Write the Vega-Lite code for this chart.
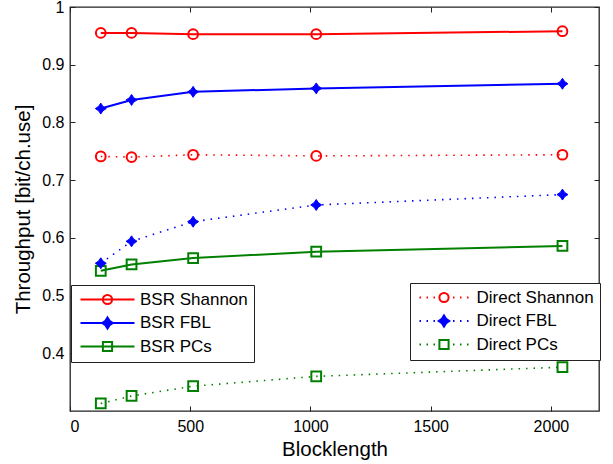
{
  "$schema": "https://vega.github.io/schema/vega-lite/v6.json",
  "width": 529,
  "height": 404,
  "autosize": {"type": "none"},
  "padding": {"left": 70, "top": 7, "right": 14, "bottom": 53},
  "data": {
    "values": [
      {"s": "BSR Shannon", "m": "BSR", "n": 128, "t": 0.955},
      {"s": "BSR Shannon", "m": "BSR", "n": 256, "t": 0.955},
      {"s": "BSR Shannon", "m": "BSR", "n": 512, "t": 0.953},
      {"s": "BSR Shannon", "m": "BSR", "n": 1024, "t": 0.953},
      {"s": "BSR Shannon", "m": "BSR", "n": 2048, "t": 0.958},
      {"s": "BSR FBL", "m": "BSR", "n": 128, "t": 0.824},
      {"s": "BSR FBL", "m": "BSR", "n": 256, "t": 0.839},
      {"s": "BSR FBL", "m": "BSR", "n": 512, "t": 0.853},
      {"s": "BSR FBL", "m": "BSR", "n": 1024, "t": 0.859},
      {"s": "BSR FBL", "m": "BSR", "n": 2048, "t": 0.867},
      {"s": "BSR PCs", "m": "BSR", "n": 128, "t": 0.543},
      {"s": "BSR PCs", "m": "BSR", "n": 256, "t": 0.554},
      {"s": "BSR PCs", "m": "BSR", "n": 512, "t": 0.565},
      {"s": "BSR PCs", "m": "BSR", "n": 1024, "t": 0.576},
      {"s": "BSR PCs", "m": "BSR", "n": 2048, "t": 0.586},
      {"s": "Direct Shannon", "m": "Direct", "n": 128, "t": 0.741},
      {"s": "Direct Shannon", "m": "Direct", "n": 256, "t": 0.740},
      {"s": "Direct Shannon", "m": "Direct", "n": 512, "t": 0.744},
      {"s": "Direct Shannon", "m": "Direct", "n": 1024, "t": 0.742},
      {"s": "Direct Shannon", "m": "Direct", "n": 2048, "t": 0.744},
      {"s": "Direct FBL", "m": "Direct", "n": 128, "t": 0.556},
      {"s": "Direct FBL", "m": "Direct", "n": 256, "t": 0.594},
      {"s": "Direct FBL", "m": "Direct", "n": 512, "t": 0.628},
      {"s": "Direct FBL", "m": "Direct", "n": 1024, "t": 0.657},
      {"s": "Direct FBL", "m": "Direct", "n": 2048, "t": 0.675},
      {"s": "Direct PCs", "m": "Direct", "n": 128, "t": 0.313},
      {"s": "Direct PCs", "m": "Direct", "n": 256, "t": 0.326},
      {"s": "Direct PCs", "m": "Direct", "n": 512, "t": 0.343},
      {"s": "Direct PCs", "m": "Direct", "n": 1024, "t": 0.360},
      {"s": "Direct PCs", "m": "Direct", "n": 2048, "t": 0.376}
    ]
  },
  "layer": [
    {
      "transform": [{"filter": "datum.m == 'BSR'"}],
      "mark": {"type": "line", "strokeWidth": 2},
      "encoding": {
        "x": {"field": "n", "type": "quantitative", "scale": {"domain": [0, 2200], "nice": false, "zero": false},
          "axis": {"orient": "bottom", "values": [0, 500, 1000, 1500, 2000], "format": "d", "title": "Blocklength", "tickSize": -5, "labelPadding": 12, "titlePadding": 5}},
        "y": {"field": "t", "type": "quantitative", "scale": {"domain": [0.3, 1], "nice": false, "zero": false},
          "axis": {"orient": "left", "values": [0.4, 0.5, 0.6, 0.7, 0.8, 0.9, 1], "labelExpr": "datum.value == 1 ? '1' : format(datum.value, '.1f')", "title": "Throughput [bit/ch.use]", "tickSize": -5, "labelPadding": 11, "titlePadding": 8}},
        "color": {"field": "s", "type": "nominal", "scale": {"domain": ["BSR Shannon", "BSR FBL", "BSR PCs"], "range": ["#ff0000", "#0000ff", "#008000"]}, "legend": null}
      }
    },
    {
      "transform": [{"filter": "datum.m == 'Direct'"}],
      "mark": {"type": "line", "strokeWidth": 1.6, "strokeDash": [1.5, 6]},
      "encoding": {
        "x": {"field": "n", "type": "quantitative", "axis": null},
        "y": {"field": "t", "type": "quantitative", "axis": null},
        "color": {"field": "s", "type": "nominal", "scale": {"domain": ["Direct Shannon", "Direct FBL", "Direct PCs"], "range": ["#ff0000", "#0000ff", "#008000"]}, "legend": null}
      }
    },
    {
      "transform": [{"filter": "datum.s != 'BSR FBL' && datum.s != 'Direct FBL'"}],
      "mark": {"type": "point", "filled": false, "strokeWidth": 2, "size": 95, "opacity": 1},
      "encoding": {
        "x": {"field": "n", "type": "quantitative", "axis": null},
        "y": {"field": "t", "type": "quantitative", "axis": null},
        "shape": {"field": "s", "type": "nominal", "scale": {"domain": ["BSR Shannon", "BSR PCs", "Direct Shannon", "Direct PCs"], "range": ["circle", "square", "circle", "square"]}, "legend": null},
        "color": {"field": "s", "type": "nominal", "scale": {"domain": ["BSR Shannon", "BSR PCs", "Direct Shannon", "Direct PCs"], "range": ["#ff0000", "#008000", "#ff0000", "#008000"]}, "legend": null}
      }
    },
    {
      "transform": [{"filter": "datum.s == 'BSR FBL' || datum.s == 'Direct FBL'"}],
      "mark": {"type": "point", "filled": true, "strokeWidth": 1, "size": 120, "opacity": 1, "color": "#0000ff", "stroke": "#0000ff", "shape": "M0,-1L0.4,-0.4L1,0L0.4,0.4L0,1L-0.4,0.4L-1,0L-0.4,-0.4Z"},
      "encoding": {
        "x": {"field": "n", "type": "quantitative", "axis": null},
        "y": {"field": "t", "type": "quantitative", "axis": null}
      }
    },
    {
      "transform": [{"filter": "datum.n < 0"}],
      "mark": {"type": "point", "strokeWidth": 2, "opacity": 1},
      "encoding": {
        "x": {"field": "n", "type": "quantitative",
          "axis": {"orient": "top", "values": [0, 500, 1000, 1500, 2000], "labels": false, "tickSize": -5, "domain": false, "title": null}},
        "y": {"field": "t", "type": "quantitative",
          "axis": {"orient": "right", "values": [0.4, 0.5, 0.6, 0.7, 0.8, 0.9, 1], "labels": false, "tickSize": -5, "domain": false, "title": null}},
        "shape": {"field": "s", "type": "nominal",
          "scale": {"domain": ["BSR Shannon", "BSR FBL", "BSR PCs"], "range": [
            "M-5.4,0L5.4,0M0.92,0A0.92,0.92,0,1,1,-0.92,0A0.92,0.92,0,1,1,0.92,0",
            "M-5.4,0L5.4,0M0,-1.1L0.42,-0.42L1.05,0L0.42,0.42L0,1.1L-0.42,0.42L-1.05,0L-0.42,-0.42Z",
            "M-5.4,0L5.4,0M-0.92,-0.92L0.92,-0.92L0.92,0.92L-0.92,0.92Z"]},
          "legend": {"orient": "none", "legendX": 1, "legendY": 278, "title": null, "labelOffset": 24, "symbolOffset": 22, "symbolSize": 100, "symbolStrokeWidth": 2}},
        "stroke": {"field": "s", "type": "nominal",
          "scale": {"domain": ["BSR Shannon", "BSR FBL", "BSR PCs"], "range": ["#ff0000", "#0000ff", "#008000"]},
          "legend": {"orient": "none", "legendX": 1, "legendY": 278, "title": null, "labelOffset": 24, "symbolOffset": 22, "symbolSize": 100, "symbolStrokeWidth": 2}},
        "fill": {"field": "s", "type": "nominal",
          "scale": {"domain": ["BSR Shannon", "BSR FBL", "BSR PCs"], "range": ["transparent", "#0000ff", "transparent"]},
          "legend": {"orient": "none", "legendX": 1, "legendY": 278, "title": null, "labelOffset": 24, "symbolOffset": 22, "symbolSize": 100, "symbolStrokeWidth": 2}}
      }
    },
    {
      "transform": [{"filter": "datum.n < 0"}],
      "mark": {"type": "point", "strokeWidth": 2, "opacity": 1},
      "encoding": {
        "x": {"field": "n", "type": "quantitative", "axis": null},
        "y": {"field": "t", "type": "quantitative", "axis": null},
        "shape": {"field": "s", "type": "nominal",
          "scale": {"domain": ["Direct Shannon", "Direct FBL", "Direct PCs"], "range": [
            "M-4.9,0L-4.6,0M-3.5,0L-3.2,0M-2.1,0L-1.8,0M1.8,0L2.1,0M3.2,0L3.5,0M4.6,0L4.9,0M0.92,0A0.92,0.92,0,1,1,-0.92,0A0.92,0.92,0,1,1,0.92,0",
            "M-4.9,0L-4.6,0M-3.5,0L-3.2,0M-2.1,0L-1.8,0M1.8,0L2.1,0M3.2,0L3.5,0M4.6,0L4.9,0M0,-1.1L0.42,-0.42L1.05,0L0.42,0.42L0,1.1L-0.42,0.42L-1.05,0L-0.42,-0.42Z",
            "M-4.9,0L-4.6,0M-3.5,0L-3.2,0M-2.1,0L-1.8,0M1.8,0L2.1,0M3.2,0L3.5,0M4.6,0L4.9,0M-0.92,-0.92L0.92,-0.92L0.92,0.92L-0.92,0.92Z"]},
          "legend": {"orient": "none", "legendX": 340, "legendY": 276, "title": null, "labelOffset": 24, "symbolOffset": 19.5, "symbolSize": 100, "symbolStrokeWidth": 2}},
        "stroke": {"field": "s", "type": "nominal",
          "scale": {"domain": ["Direct Shannon", "Direct FBL", "Direct PCs"], "range": ["#ff0000", "#0000ff", "#008000"]},
          "legend": {"orient": "none", "legendX": 340, "legendY": 276, "title": null, "labelOffset": 24, "symbolOffset": 19.5, "symbolSize": 100, "symbolStrokeWidth": 2}},
        "fill": {"field": "s", "type": "nominal",
          "scale": {"domain": ["Direct Shannon", "Direct FBL", "Direct PCs"], "range": ["transparent", "#0000ff", "transparent"]},
          "legend": {"orient": "none", "legendX": 340, "legendY": 276, "title": null, "labelOffset": 24, "symbolOffset": 19.5, "symbolSize": 100, "symbolStrokeWidth": 2}}
      }
    }
  ],
  "resolve": {
    "scale": {"color": "independent", "shape": "independent", "stroke": "independent", "fill": "independent"},
    "axis": {"x": "independent", "y": "independent"}
  },
  "config": {
    "font": "Liberation Sans",
    "view": {"stroke": "#222222", "strokeWidth": 1.3},
    "axis": {
      "grid": false, "domain": false, "tickColor": "#222222", "tickWidth": 1,
      "labelFont": "Liberation Sans", "labelFontSize": 16, "labelColor": "#000000",
      "titleFont": "Liberation Sans", "titleFontSize": 20.5, "titleFontWeight": "normal", "titleColor": "#000000"
    },
    "legend": {
      "labelFont": "Liberation Sans", "labelFontSize": 17, "labelColor": "#000000",
      "padding": 6, "rowPadding": 4.5, "strokeColor": "#222222", "fillColor": "#ffffff",
      "labelLimit": 300
    }
  }
}
